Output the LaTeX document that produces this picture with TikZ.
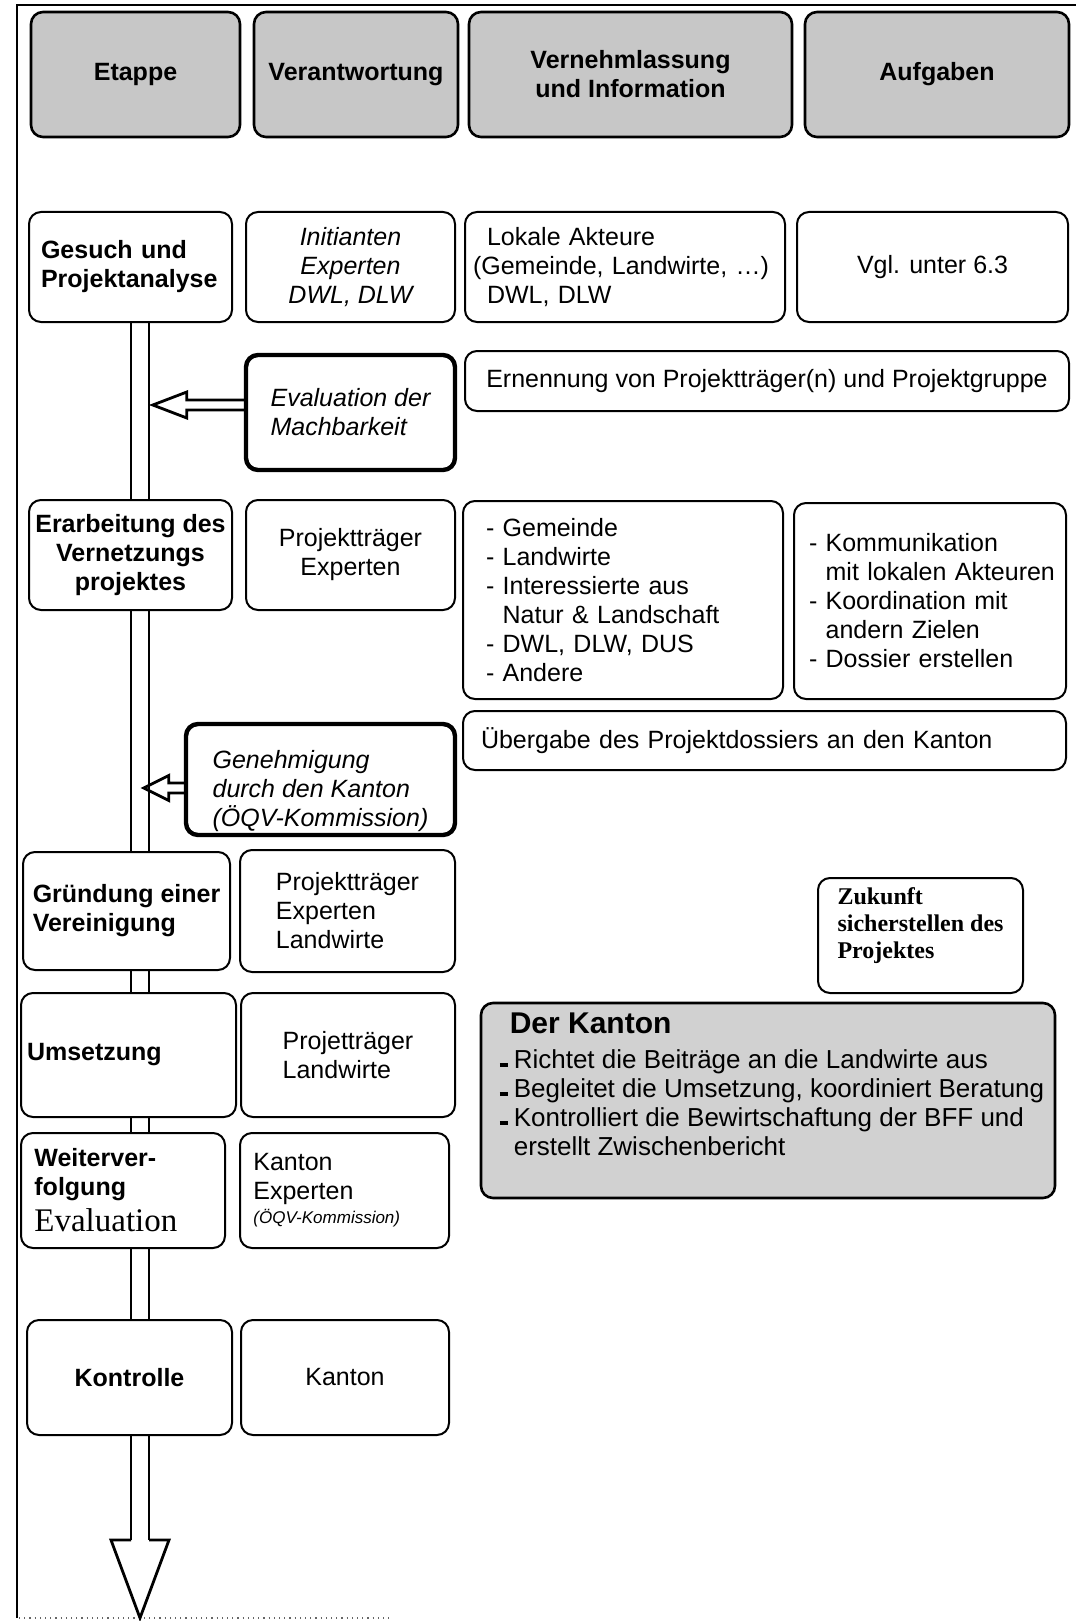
\documentclass[tikz,border=0pt]{standalone}
\usepackage{fontspec}
\setmainfont{Liberation Sans}
\newfontfamily\timesfont{Liberation Serif}
\usetikzlibrary{calc, backgrounds}
\newcommand{\boxfont}{\fontsize{12.5}{14.5}\selectfont}
\newcommand{\kbullet}{\hspace*{4pt}\rule[1pt]{4pt}{1.8pt}\hspace{3pt}}

\begin{document}
\begin{tikzpicture}[x=0.5pt, y=-0.5pt]
\tikzset{CellStyle/.style = {draw, line width=1pt, rounded corners=6pt, fill=white, inner sep=4pt, font=\boxfont},
  HeadStyle/.style = {CellStyle, fill=black!22, line width=1.3pt, align=center, font=\boxfont\bfseries},
  StageStyle/.style = {CellStyle, font=\boxfont\bfseries},
  CheckStyle/.style = {CellStyle, line width=2.2pt, font=\boxfont\itshape},
  ShaftStyle/.style = {double, double distance=8pt, line width=1pt},
  HollowStyle/.style = {line width=1.4pt, line join=miter}
}
\useasboundingbox (0,0) rectangle (1076,1621);

    % Frame
    \draw [line width=0.6pt] (17,1618) -- (17,5) -- (1076,5);
    \draw [dotted, line width=0.6pt, black!60] (19,1618) -- (390,1618);

    % Column heads
   \node[HeadStyle, minimum width=104.5pt, minimum height=62.5pt] (etappe) at (135.5,74.5) {Etappe};
   \node[HeadStyle, minimum width=102pt, minimum height=62.5pt] (verantwortung) at (356,74.5) {Verantwortung};
   \node[HeadStyle, minimum width=161.5pt, minimum height=62.5pt] (vernehmlassung) at (630.5,74.5) {Vernehmlassung\\und Information};
   \node[HeadStyle, minimum width=132pt, minimum height=62.5pt] (aufgaben) at (937,74.5) {Aufgaben};

    % Gesuch
   \node[StageStyle, text width=89.5pt, inner xsep=6pt, minimum height=55pt, align=left] (gesuch) at (130.5,267) {Gesuch und\\Projektanalyse};
   \node[CellStyle, minimum width=104.5pt, minimum height=55pt, align=center, font=\boxfont\itshape] (initianten) at (350.5,267) {Initianten\\Experten\\DWL, DLW};
   \node[CellStyle, text width=152pt, inner xsep=4pt, minimum height=55pt, align=left] (lokale) at (625,267) {\hspace*{7pt}Lokale Akteure\\(Gemeinde, Landwirte, …)\\\hspace*{7pt}DWL, DLW};
   \node[CellStyle, minimum width=135.5pt, minimum height=55pt] (vgl) at (932.5,267) {Vgl. unter 6.3};

   \node[CheckStyle, minimum width=104.5pt, minimum height=57.5pt, align=left] (evaluation) at (350.5,412.5) {Evaluation der\\Machbarkeit};
   \node[CellStyle, minimum width=302pt, minimum height=30pt] (ernennung) at (767,381) {Ernennung von Projektträger(n) und Projektgruppe};

    % Erarbeitung
   \node[StageStyle, minimum width=101.5pt, minimum height=55pt, inner xsep=2pt, align=center] (erarbeitung) at (130.5,555) {Erarbeitung des\\Vernetzungs\\projektes};
   \node[CellStyle, minimum width=104.5pt, minimum height=55pt, align=center] (traeger1) at (350.5,555) {Projektträger\\Experten};
   \node[CellStyle, text width=137pt, inner xsep=11.5pt, minimum height=99pt, align=left] (gemeinde) at (623,600) {- Gemeinde\\- Landwirte\\- Interessierte aus\\\hphantom{- }Natur \& Landschaft\\- DWL, DLW, DUS\\- Andere};
   \node[CellStyle, text width=129pt, inner xsep=3.5pt, minimum height=98pt, align=left] (kommunikation) at (930,601) {\hspace*{4pt}- Kommunikation\\\hspace*{4pt}\hphantom{- }mit lokalen Akteuren\\\hspace*{4pt}- Koordination mit\\\hspace*{4pt}\hphantom{- }andern Zielen\\\hspace*{4pt}- Dossier erstellen};

   \node[CellStyle, text width=283.5pt, inner xsep=9pt, minimum height=29.5pt, align=left] (uebergabe) at (764.5,740.5) {Übergabe des Projektdossiers an den Kanton};
   \node[CheckStyle, minimum width=134.5pt, minimum height=55.5pt, inner ysep=0pt, align=left] (genehmigung) at (320.5,779.5) {\rule{0pt}{21pt}Genehmigung\\durch den Kanton\\(ÖQV-Kommission)};

    % Gruendung
   \node[StageStyle, minimum width=103.5pt, minimum height=59pt, align=left] (gruendung) at (126.5,911) {Gründung einer\\Vereinigung};
   \node[CellStyle, minimum width=107.5pt, minimum height=61pt, align=left] (traeger2) at (347.5,911) {Projektträger\\Experten\\Landwirte};
   \node[CellStyle, minimum width=102.5pt, minimum height=57.5pt, align=left, font={\timesfont\bfseries\fontsize{12}{13.5}\selectfont}] (zukunft) at (920.5,935.5) {Zukunft\\sicherstellen des\\Projektes\rule[-12pt]{0pt}{12pt}};

    % Umsetzung
   \node[StageStyle, text width=101.5pt, inner xsep=3pt, minimum height=62pt, align=left] (umsetzung) at (128.5,1055) {Umsetzung};
   \node[CellStyle, minimum width=107pt, minimum height=62pt, align=left] (traeger3) at (348,1055) {Projetträger\\Landwirte};
   \node[CellStyle, fill=black!18, line width=1.3pt, minimum width=287pt, minimum height=97.5pt, inner xsep=3.5pt, align=left, font=\fontsize{13}{14.5}\selectfont] (kanton) at (768,1100.5)
     {{\fontsize{15}{16}\selectfont\bfseries\hspace*{9pt}Der Kanton}\\[3pt]
      \kbullet Richtet die Beiträge an die Landwirte aus\\
      \kbullet Begleitet die Umsetzung, koordiniert Beratung\\
      \kbullet Kontrolliert die Bewirtschaftung der BFF und\\
      \hphantom{\kbullet}erstellt Zwischenbericht\rule[-16pt]{0pt}{16pt}};

    % Weiterverfolgung
   \node[StageStyle, text width=88.6pt, inner xsep=6.7pt, minimum height=57.5pt, align=left] (weiter) at (123,1190.5) {Weiterver-\\folgung\\[3.5pt]{\timesfont\mdseries\fontsize{16.5}{16}\selectfont Evaluation}};
   \node[CellStyle, text width=91.1pt, inner xsep=6.7pt, minimum height=57.5pt, align=left] (kantonexp) at (344.5,1190.5) {Kanton\\Experten\\[-2.5pt]{\fontsize{8.5}{9}\selectfont\itshape (ÖQV-Kommission)}};

    % Kontrolle
   \node[StageStyle, minimum width=102.5pt, minimum height=57.5pt] (kontrolle) at (129.5,1377.5) {Kontrolle};
   \node[CellStyle, minimum width=104pt, minimum height=57.5pt] (kanton2) at (345,1377.5) {Kanton};

    % Time line
   \coordinate (shaftx) at (140,0);
   \coordinate (arrowbase) at (140,1540);
   \coordinate (arrowtip) at (140,1618);
   \begin{scope}[on background layer]
   \foreach \sa/\sb in {gesuch/erarbeitung, erarbeitung/gruendung, gruendung/umsetzung, umsetzung/weiter, weiter/kontrolle}
      \draw[ShaftStyle] (\sa.south -| shaftx) -- (\sb.north -| shaftx);
   \draw[ShaftStyle] (kontrolle.south -| shaftx) -- (arrowbase);
   \end{scope}
   \draw[HollowStyle] ($(arrowbase)+(-9,0)$) -- ++(-20,0) -- (arrowtip) -- ($(arrowbase)+(29,0)$) -- ++(-20,0);

    % Checks back to the time line
   \draw[HollowStyle] ($(evaluation.west)+(0,-12.5)$) -- ++(-57,0) -- ++(0,-8) -- ++(-34,13) -- ++(34,13) -- ++(0,-8) -- ++(57,0);
   \draw[HollowStyle] ($(genehmigung.west)+(0,3.5)$) -- ++(-15,0) -- ++(0,-7.5) -- ++(-25,12.5) -- ++(25,12.5) -- ++(0,-7.5) -- ++(15,0);
\end{tikzpicture}
\end{document}
